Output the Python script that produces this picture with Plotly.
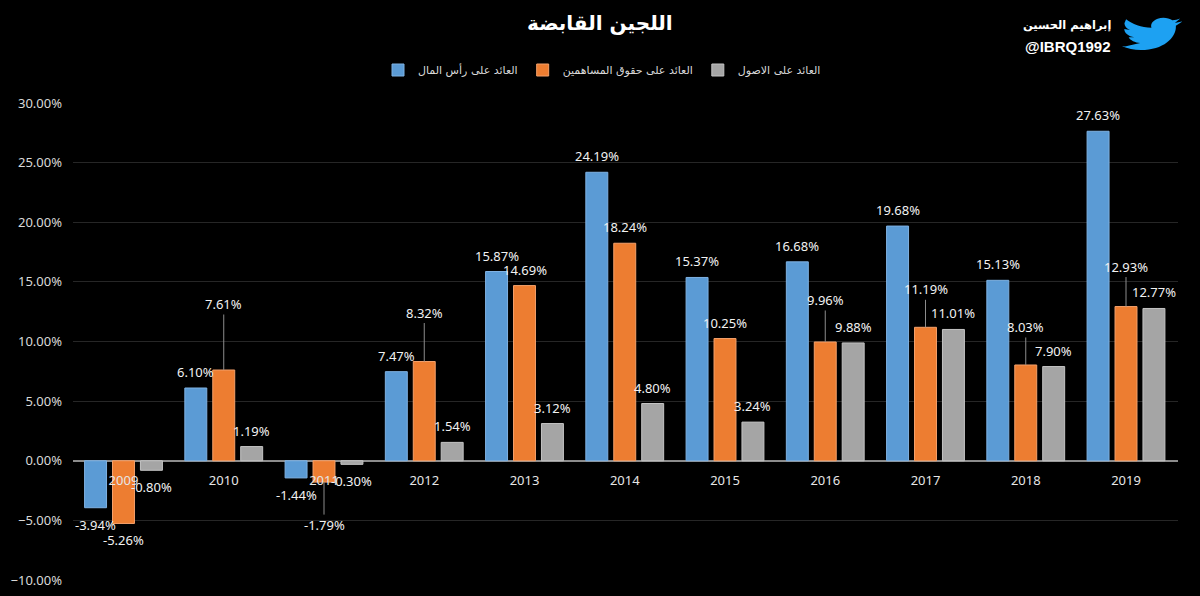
import plotly.graph_objects as go

# data (percent)
years = ["2009", "2010", "2011", "2012", "2013", "2014", "2015", "2016", "2017", "2018", "2019"]
roc = [-3.94, 6.10, -1.44, 7.47, 15.87, 24.19, 15.37, 16.68, 19.68, 15.13, 27.63]
roe = [-5.26, 7.61, -1.79, 8.32, 14.69, 18.24, 10.25, 9.96, 11.19, 8.03, 12.93]
roa = [-0.80, 1.19, -0.30, 1.54, 3.12, 4.80, 3.24, 9.88, 11.01, 7.90, 12.77]

names = ["العائد على رأس المال", "العائد على حقوق المساهمين", "العائد على الاصول"]
colors = ["#5b9bd5", "#ed7d31", "#a5a5a5"]
edges = ["#7fb2e3", "#f4a06a", "#c4c4c4"]

# labels that Excel moved away from the bar, with a leader line (pixels)
leader = {"2010": -66, "2011": 43, "2012": -49, "2016": -42, "2017": -38, "2018": -38, "2019": -40}

W, H = 1200, 596
ml, mr, mt, mb = 73, 22, 103, 16
pw = W - ml - mr
ph = H - mt - mb
bargap = 0.164
groupgap = 0.214

fig = go.Figure()
for name, vals, c, e in zip(names, [roc, roe, roa], colors, edges):
    fig.add_trace(go.Bar(x=years, y=vals, name=name, hoverinfo="skip",
                         marker=dict(color=c, line=dict(color=e, width=1))))

# data labels (annotations on a category axis take the category index)
slot = pw / len(years) * (1 - bargap) / 3
lab_font = dict(family="Noto Sans", size=13, color="#f2f2f2")
for i, vals in enumerate([roc, roe, roa]):
    dx = (i - 1) * slot
    for j, (yr, v) in enumerate(zip(years, vals)):
        txt = "%.2f%%" % v
        if i == 1 and yr in leader:
            fig.add_annotation(x=j, y=v, text=txt, showarrow=True, arrowhead=0,
                               arrowwidth=1, arrowcolor="#8c8c8c", standoff=0,
                               ax=0, ay=leader[yr], xshift=dx, font=lab_font)
        else:
            fig.add_annotation(x=j, y=v, text=txt, showarrow=False, xshift=dx,
                               yanchor="middle", yshift=16 if v >= 0 else -17, font=lab_font)


def paper_y(py):
    return (H - mb - py) / ph


def paper_x(px):
    return (px - ml) / pw


# title
fig.add_annotation(xref="paper", yref="paper", x=paper_x(600), y=paper_y(23),
                   xanchor="center", yanchor="middle",
                   text="<b>اللجين القابضة</b>", showarrow=False,
                   font=dict(family="DejaVu Sans", size=20, color="white"))

# twitter tag
fig.add_annotation(xref="paper", yref="paper", x=paper_x(1113), y=paper_y(25),
                   xanchor="right", yanchor="middle", text="<b>إبراهيم الحسين</b>", showarrow=False,
                   font=dict(family="DejaVu Sans", size=11.5, color="white"))
fig.add_annotation(xref="paper", yref="paper", x=paper_x(1113), y=paper_y(46),
                   xanchor="right", yanchor="middle", text="<b>@IBRQ1992</b>", showarrow=False,
                   font=dict(family="Liberation Sans", size=15, color="white"))

bird = [
    ("M", [(23.953, 4.57)]),
    ("L", [(21.128, 5.345)]),
    ("L", [(23.291, 2.622)]),
    ("C", [(22.34, 3.177), (21.286, 3.581), (20.164, 3.806)]),
    ("C", [(18.65, 2.18), (16.23, 1.78), (14.26, 2.826)]),
    ("C", [(12.29, 3.87), (11.28, 6.11), (11.78, 8.288)]),
    ("C", [(7.69, 8.095), (4.067, 6.13), (1.64, 3.162)]),
    ("L", [(0.974, 5.637)]),
    ("C", [(0.974, 7.347), (1.844, 8.85), (3.162, 9.733)]),
    ("L", [(0.934, 9.117)]),
    ("L", [(0.934, 9.177)]),
    ("C", [(0.934, 11.5), (2.6, 13.5), (4.88, 14.004)]),
    ("L", [(2.668, 14.089)]),
    ("C", [(3.3, 16.0), (5.2, 17.4), (7.272, 17.506)]),
    ("L", [(1.17, 19.611)]),
    ("C", [(0.78, 19.611), (0.391, 19.588), (0, 19.544)]),
    ("C", [(2.2, 20.95), (4.8, 21.753), (7.557, 21.753)]),
    ("C", [(16.61, 21.753), (21.555, 14.257), (21.555, 7.768)]),
    ("C", [(21.555, 7.558), (21.555, 7.348), (21.54, 7.138)]),
    ("L", [(24, 4.59)]),
]
path = ""
for cmd, pts in bird:
    path += cmd + " ".join("%.2f,%.2f" % (px * 2.5, -(py - 1.78) * 1.65) for px, py in pts) + " "
path += "Z"
fig.add_shape(type="path", xref="paper", yref="paper", xsizemode="pixel", ysizemode="pixel",
              xanchor=paper_x(1122), yanchor=paper_y(17), path=path,
              fillcolor="#1da1f2", line=dict(width=0))

fig.update_layout(
    width=W, height=H,
    paper_bgcolor="black", plot_bgcolor="black",
    margin=dict(l=ml, r=mr, t=mt, b=mb),
    barmode="group", bargap=bargap, bargroupgap=groupgap,
    font=dict(family="Noto Sans", color="#d9d9d9"),
    legend=dict(orientation="h", x=paper_x(602), xanchor="center",
                y=paper_y(70), yanchor="middle", itemwidth=30,
                font=dict(family="DejaVu Sans", size=11, color="#d9d9d9"),
                bgcolor="rgba(0,0,0,0)"),
    xaxis=dict(type="category", anchor="free", position=0.25, showgrid=False, showline=False,
               automargin=False,
               tickfont=dict(size=13, color="#e6e6e6"), ticklabelstandoff=10),
    yaxis=dict(range=[-10, 30], dtick=5, tickformat=".2f", ticksuffix="%",
               automargin=False,
               gridcolor="#262626", gridwidth=1,
               zeroline=True, zerolinecolor="#8c8c8c", zerolinewidth=1.5,
               tickfont=dict(size=13, color="#d9d9d9"), ticklabelstandoff=10),
)

fig.write_html("out.html", config={"displayModeBar": False},
               post_script="document.body.style.margin='0';")
